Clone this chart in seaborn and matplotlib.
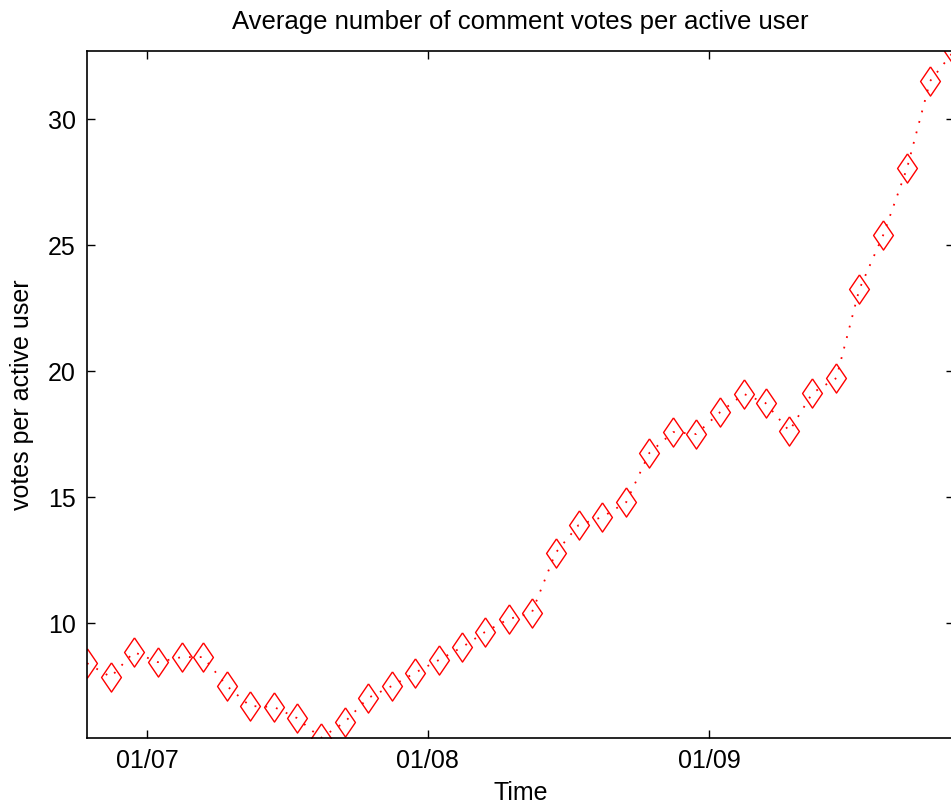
import pandas as pd
import matplotlib
matplotlib.use("Agg")
import matplotlib.pyplot as plt
import matplotlib.dates as mdates
import seaborn as sns

# monthly values, mid-month, Oct 2006 .. Nov 2009
dates = pd.date_range("2006-10-01", periods=38, freq="MS") + pd.Timedelta(days=14)
votes = [8.41, 7.86, 8.85, 8.45, 8.65, 8.65, 7.50, 6.71, 6.67, 6.23,
         5.44, 6.07, 7.02, 7.50, 8.02, 8.53, 9.05, 9.64, 10.16, 10.40,
         12.78, 13.89, 14.21, 14.80, 16.75, 17.58, 17.50, 18.37, 19.09, 18.73,
         17.62, 19.13, 19.72, 23.25, 25.40, 28.06, 31.51, 32.70]
ytick_vals = [10, 15, 20, 25, 30]
xtick_dates = pd.to_datetime(["2007-01-01", "2008-01-01", "2009-01-01"])

df = pd.DataFrame({"date": dates, "votes": votes})

sns.set_style("ticks")
plt.rcParams["font.family"] = ["Liberation Sans", "DejaVu Sans"]
plt.rcParams["text.color"] = "black"
plt.rcParams["axes.labelcolor"] = "black"

# diamond a bit wider than matplotlib's thin one
diamond = [(0, 1), (0.68, 0), (0, -1), (-0.68, 0), (0, 1)]

fig = plt.figure(figsize=(9.51, 8.09), dpi=100)
ax = fig.add_axes([87 / 951, 1 - 738 / 809, (954 - 87) / 951, (738 - 51) / 809])

sns.lineplot(data=df, x="date", y="votes", ax=ax, color="red",
             linestyle=(0, (1, 5)), linewidth=1.3,
             marker=diamond, markersize=21, markerfacecolor="none",
             markeredgecolor="red", markeredgewidth=1.0)

ax.set_xlim(df["date"].min(), df["date"].max())
ax.set_ylim(min(votes), max(votes))
ax.set_yticks(ytick_vals)
ax.set_xticks(xtick_dates)
ax.xaxis.set_major_formatter(mdates.DateFormatter("%m/%y"))
ax.tick_params(direction="in", length=6, width=1, top=True, right=True,
               labelsize=18, colors="black", pad=8)
for s in ax.spines.values():
    s.set_color("black")
    s.set_linewidth(1.2)

ax.set_title("Average number of comment votes per active user", fontsize=18.5, pad=16)
ax.set_xlabel("Time", fontsize=18, labelpad=6)
ax.set_ylabel("votes per active user", fontsize=18, labelpad=10)

fig.savefig("out.png", dpi=100)
